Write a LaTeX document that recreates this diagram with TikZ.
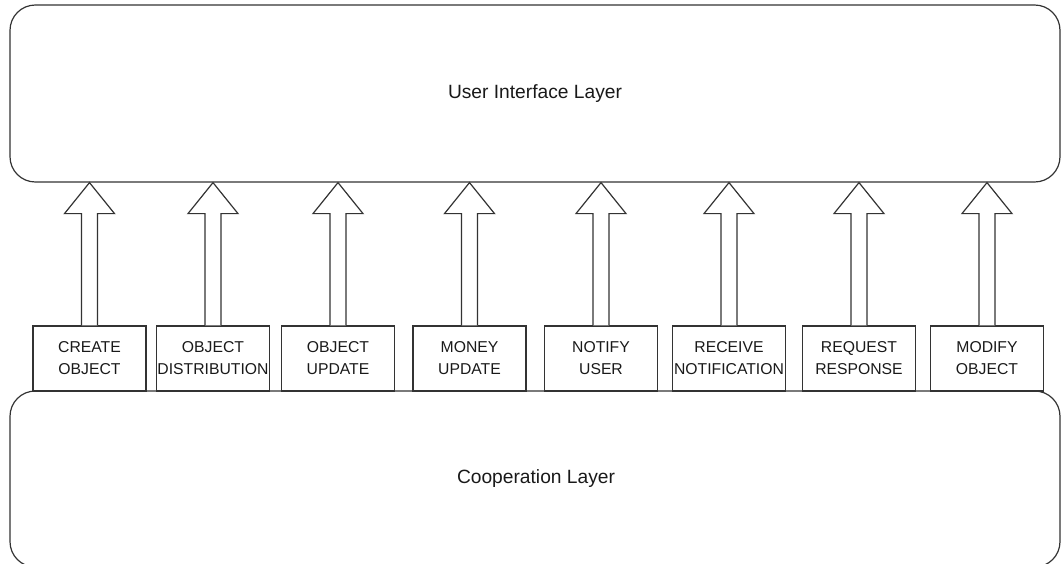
\documentclass[tikz,border=0pt]{standalone}
\usepackage{fontspec}
\setmainfont{Liberation Sans}
\usetikzlibrary{calc}

\begin{document}
\begin{tikzpicture}[x=0.75pt, y=-0.75pt,
    layer/.style={draw=black!80, line width=0.9pt, rounded corners=19pt,
      minimum width=787.5pt, font=\fontsize{14.4}{17}\selectfont, text=black!90},
    opbox/.style={draw=black!80, line width=0.9pt, inner sep=0pt,
      minimum width=84.75pt, minimum height=48.75pt, align=center,
      font=\fontsize{11.8}{16.5}\selectfont, text=black!90},
    fatarr/.style={draw=black!80, line width=0.9pt, fill=white, line join=miter},
  ]
    \useasboundingbox (0,0) rectangle (1061,564);

    % Layers
    \node[layer, minimum height=132.75pt] (ui) at (535, 93.5) {User Interface Layer};
    \node[layer, minimum height=132pt] (coop) at (535, 479) {};
    \node[font=\fontsize{14.4}{17}\selectfont, text=black!90] (cooplbl) at (536, 479) {Cooperation Layer};

    % Operations
    \node[opbox] (create) at (89.5, 358.5) {CREATE\\OBJECT};
    \node[opbox] (distr) at (213, 358.5) {OBJECT\\DISTRIBUTION};
    \node[opbox] (objupd) at (338, 358.5) {OBJECT\\UPDATE};
    \node[opbox] (money) at (469.5, 358.5) {MONEY\\UPDATE};
    \node[opbox] (notify) at (601, 358.5) {NOTIFY\\USER};
    \node[opbox] (receive) at (729, 358.5) {RECEIVE\\NOTIFICATION};
    \node[opbox] (request) at (859, 358.5) {REQUEST\\RESPONSE};
    \node[opbox] (modify) at (987, 358.5) {MODIFY\\OBJECT};

    % Arrows
    \foreach \op in {create, distr, objupd, money, notify, receive, request, modify} {
      \draw[fatarr] ($(\op.north)+(-8,0)$) -- ($(\op.north |- ui.south)+(-8,31)$)
        -- ($(\op.north |- ui.south)+(-25,31)$) -- (\op.north |- ui.south)
        -- ($(\op.north |- ui.south)+(25,31)$) -- ($(\op.north |- ui.south)+(8,31)$)
        -- ($(\op.north)+(8,0)$);
    }
  \end{tikzpicture}
\end{document}
